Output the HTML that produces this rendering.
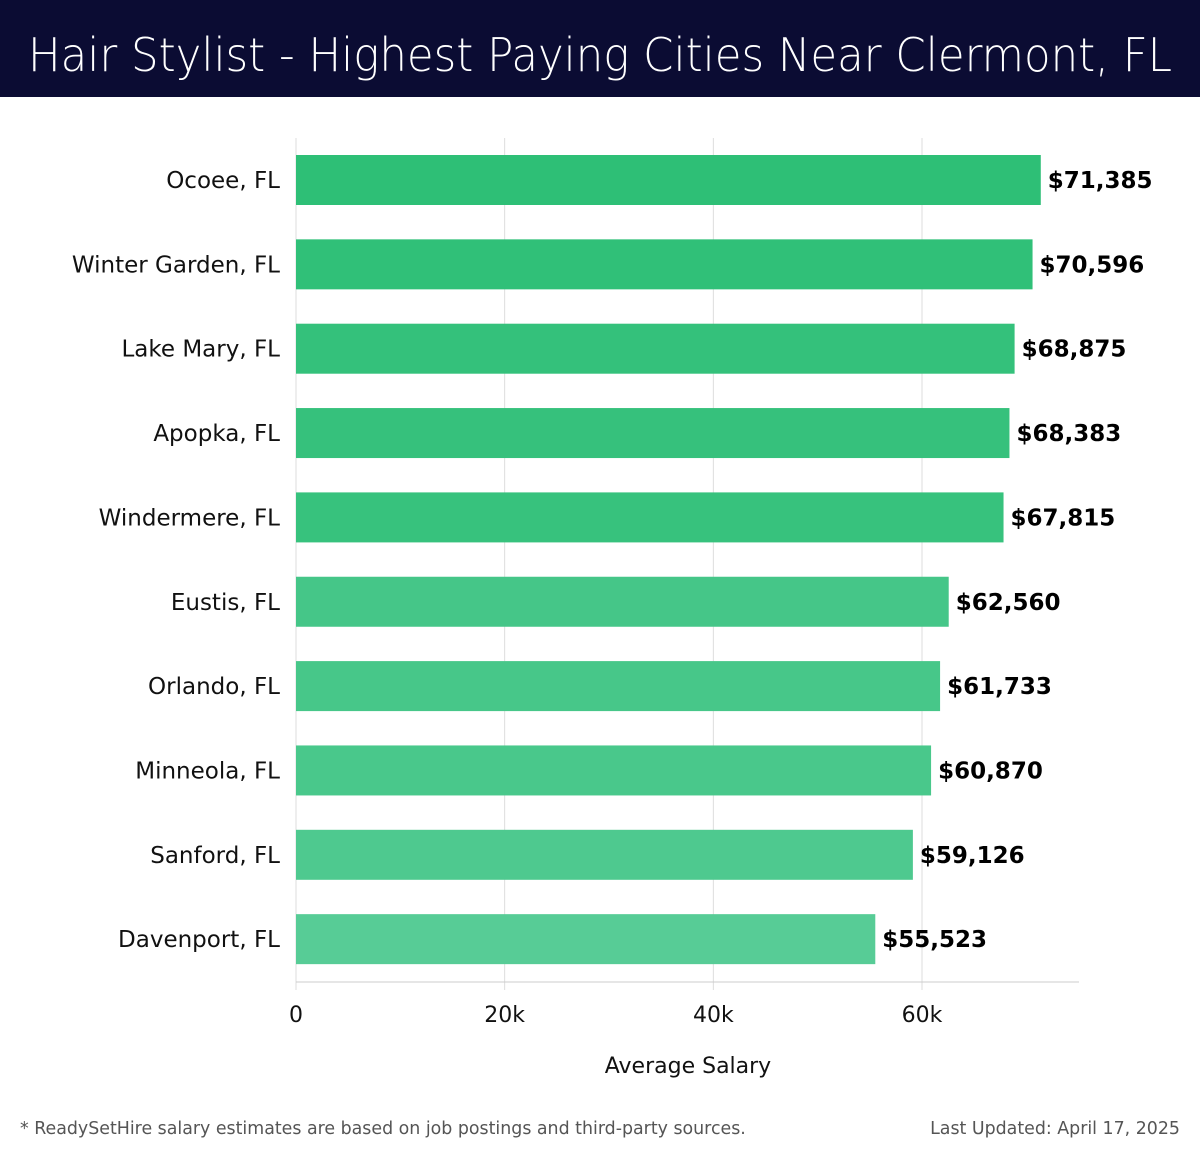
<!DOCTYPE html>
<html><head><meta charset="utf-8"><style>
body{margin:0;width:1200px;height:1158px;background:#fff;font-family:"DejaVu Sans","Liberation Sans",sans-serif;overflow:hidden;position:relative}
#hdr{position:absolute;left:0;top:0;width:1200px;height:97px;background:#0b0c33}
.foot{position:absolute;top:1119px;font-size:17.4px;color:#555;font-family:"DejaVu Sans","Liberation Sans",sans-serif}
</style></head><body>
<div id="hdr">
<svg width="1200" height="97"><text x="28" y="71" font-size="46" fill="#fff" textLength="1144" lengthAdjust="spacingAndGlyphs" font-family="DejaVu Sans, sans-serif" font-weight="300">Hair Stylist - Highest Paying Cities Near Clermont, FL</text></svg>
</div>
<svg id="chart" width="1200" height="1100" style="position:absolute;left:0;top:0"></svg>
<div class="foot" style="left:20px">* ReadySetHire salary estimates are based on job postings and third-party sources.</div>
<div class="foot" style="right:20px">Last Updated: April 17, 2025</div>
<script>
const categories=["Ocoee, FL","Winter Garden, FL","Lake Mary, FL","Apopka, FL","Windermere, FL","Eustis, FL","Orlando, FL","Minneola, FL","Sanford, FL","Davenport, FL"];
const values=[71385,70596,68875,68383,67815,62560,61733,60870,59126,55523];
const ticks=[0,20000,40000,60000];
const tickLabels=["0","20k","40k","60k"];
const NS="http://www.w3.org/2000/svg";
const svg=document.getElementById('chart');
const x0=296,pxPer=(922-296)/60000,top0=138,step=84.35,bh=50;
const x=v=>x0+v*pxPer;
const yc=i=>top0+42+i*step;
function mk(t,a){const e=document.createElementNS(NS,t);for(const k in a)e.setAttribute(k,a[k]);svg.appendChild(e);return e;}
ticks.forEach((t,i)=>{
 const g=mk('line',{x1:x(t),x2:x(t),y1:top0,y2:990,stroke:'#ddd','stroke-width':1});
 
 
 const l=mk('text',{x:x(t),y:1022,'text-anchor':'middle','font-size':22,fill:'#111'});
 l.textContent=tickLabels[i];
 
 
});
const ax=mk('line',{x1:x0,x2:1079,y1:982,y2:982,stroke:'#ccc','stroke-width':1});


const vmax=Math.max(...values),vmin=Math.min(...values);
values.forEach((v,i)=>{
 const f=(vmax-v)/(vmax-vmin);
 const r=Math.round(46+(87-46)*f),g=Math.round(191+(204-191)*f),b=Math.round(118+(150-118)*f);
 const bar=mk('rect',{x:x0,y:yc(i)-bh/2,width:x(v)-x0,height:bh,fill:`rgb(${r},${g},${b})`});
 
 
 const lab=mk('text',{x:x(v)+7,y:yc(i)+8,'font-size':23,'font-weight':'bold',fill:'#000'});
 lab.textContent='$'+v.toLocaleString('en-US');
 
 
 const c=mk('text',{x:280,y:yc(i)+8,'text-anchor':'end','font-size':23,fill:'#111'});
 c.textContent=categories[i];
 
 
});
const xt=mk('text',{x:688,y:1073,'text-anchor':'middle','font-size':22,fill:'#111'});
xt.textContent='Average Salary';


</script>
</body></html>
